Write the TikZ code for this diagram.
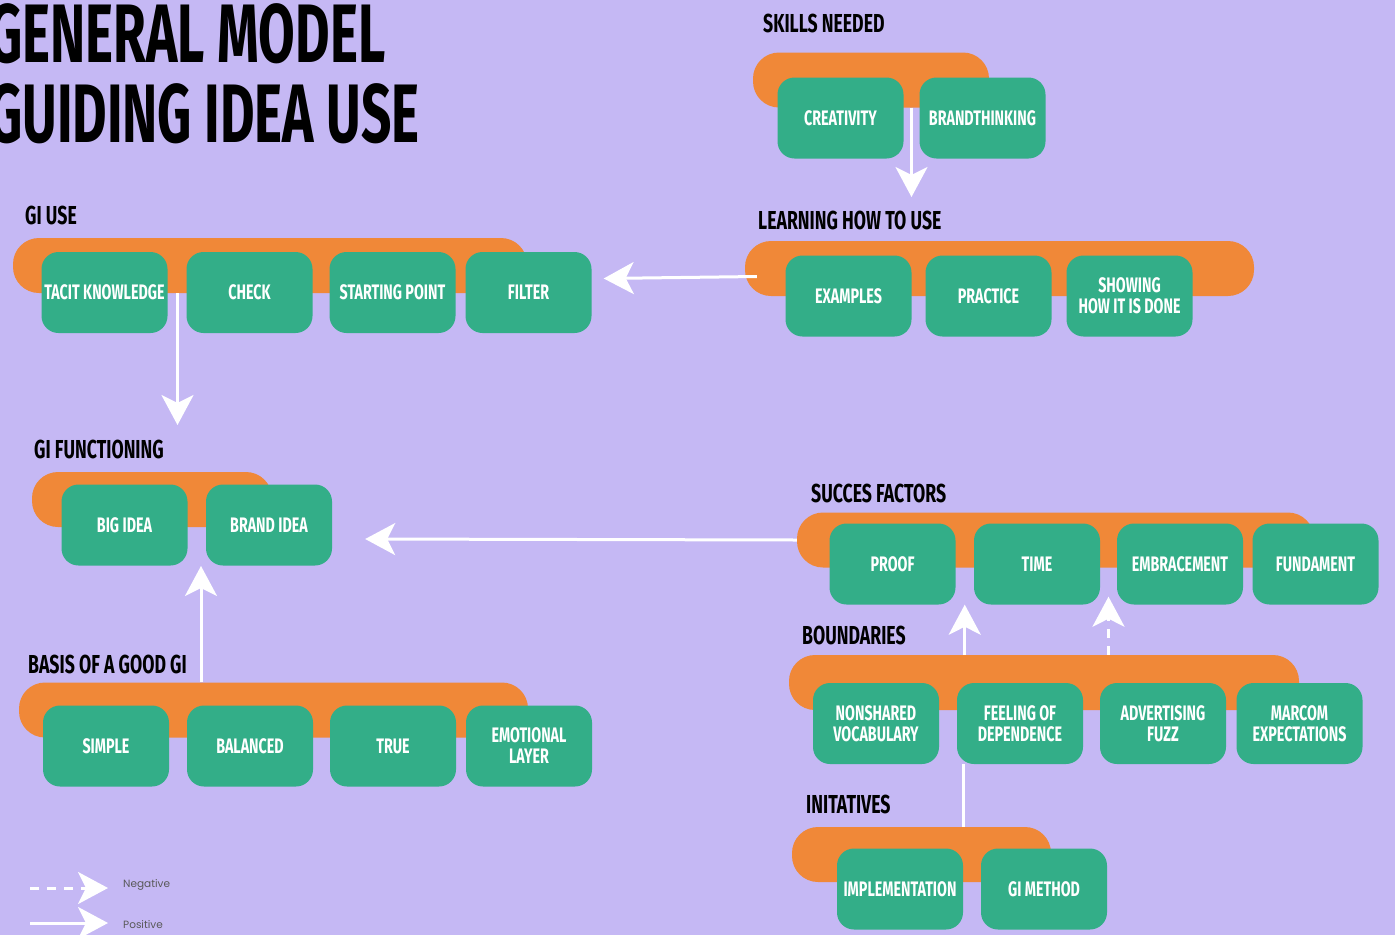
\documentclass[tikz,border=0pt]{standalone}
\usepackage{fontspec}
\usepackage{xcolor}
\usepackage{tikz}
\usetikzlibrary{shapes,arrows.meta,positioning}
\usetikzlibrary{calc}
\newfontfamily\condfont{Fira Sans}[FakeStretch=0.68]
\newfontfamily\titlefont{Fira Sans}[FakeStretch=0.64]
\newfontfamily\legendfont{Poppins}
\definecolor{lavender}{RGB}{197,184,244}
\definecolor{barorange}{RGB}{240,136,56}
\definecolor{boxgreen}{RGB}{51,174,136}

\begin{document}
\begin{tikzpicture}
  [
    x=1pt, y=-1pt,
    Bar/.style={rectangle, fill=barorange, rounded corners=26pt, minimum height=55pt, inner sep=0pt},
    Box/.style={rectangle, fill=boxgreen, rounded corners=17pt, minimum width=126pt, minimum height=81pt, inner sep=0pt, align=center, text=white, font=\condfont\bfseries\fontsize{21}{21}\selectfont},
    Head/.style={anchor=base west, inner sep=0pt, font=\condfont\bfseries\fontsize{26}{26}\selectfont},
    Title/.style={anchor=base west, inner sep=0pt, font=\titlefont\bfseries\fontsize{83}{83}\selectfont},
    Positive/.style={draw=white, line width=3pt, -{Stealth[length=30pt, width=32pt, inset=8pt]}},
    Negative/.style={Positive, dash pattern=on 9pt off 8pt},
    Legend/.style={anchor=west, inner sep=0pt, text=black!65, font=\legendfont\fontsize{10.5}{10.5}\selectfont}
  ]
  \fill[lavender] (0,0) rectangle (1395,935);
  \useasboundingbox (0,0) rectangle (1395,935);

  % Title
  \node[Title] (title1) at (-12,62) {GENERAL MODEL};
  \node[Title] (title2) at (-12,142) {GUIDING IDEA USE};

  % Headings
  \node[Head] (hskills) at (763,32) {SKILLS NEEDED};
  \node[Head] (hlearn) at (758,229) {LEARNING HOW TO USE};
  \node[Head] (hgiuse) at (25,224) {GI USE};
  \node[Head] (hfunc) at (34,458) {GI FUNCTIONING};
  \node[Head] (hbasis) at (28,673) {BASIS OF A GOOD GI};
  \node[Head] (hsucces) at (811,502) {SUCCES FACTORS};
  \node[Head] (hbound) at (802,644) {BOUNDARIES};
  \node[Head] (hinit) at (806,813) {INITATIVES};

  % Bars
  \node[Bar, minimum width=236pt] (skillsbar) at (871,80) {};
  \node[Bar, minimum width=509pt] (learnbar) at (999.5,268.5) {};
  \node[Bar, minimum width=514pt] (giusebar) at (270,265.5) {};
  \node[Bar, minimum width=240pt] (funcbar) at (152,499.5) {};
  \node[Bar, minimum width=509pt] (basisbar) at (273.5,710) {};
  \node[Bar, minimum width=517pt] (succesbar) at (1055.5,540) {};
  \node[Bar, minimum width=510pt] (boundbar) at (1044,682.5) {};
  \node[Bar, minimum width=259pt] (initbar) at (921.5,854.5) {};

  % Boxes
  \node[Box] (creativity) at (840.5,118) {CREATIVITY};
  \node[Box] (brandthinking) at (982.5,118) {BRANDTHINKING};

  \node[Box] (examples) at (848.5,296) {EXAMPLES};
  \node[Box] (practice) at (988.5,296) {PRACTICE};
  \node[Box] (showing) at (1129.5,296) {SHOWING\\HOW IT IS DONE};

  \node[Box] (tacit) at (104.5,292.5) {TACIT KNOWLEDGE};
  \node[Box] (check) at (249.5,292.5) {CHECK};
  \node[Box] (starting) at (392.5,292.5) {STARTING POINT};
  \node[Box] (filter) at (528.5,292.5) {FILTER};

  \node[Box] (bigidea) at (124.5,525) {BIG IDEA};
  \node[Box] (brandidea) at (269,525) {BRAND IDEA};

  \node[Box] (simple) at (106,746) {SIMPLE};
  \node[Box] (balanced) at (250,746) {BALANCED};
  \node[Box] (true) at (393,746) {TRUE};
  \node[Box] (emotional) at (529,746) {EMOTIONAL\\LAYER};

  \node[Box] (proof) at (892.5,564) {PROOF};
  \node[Box] (time) at (1037,564) {TIME};
  \node[Box] (embracement) at (1180,564) {EMBRACEMENT};
  \node[Box] (fundament) at (1315.5,564) {FUNDAMENT};

  \node[Box] (nonshared) at (876,723.5) {NONSHARED\\VOCABULARY};
  \node[Box] (feeling) at (1020,723.5) {FEELING OF\\DEPENDENCE};
  \node[Box] (advertising) at (1163,723.5) {ADVERTISING\\FUZZ};
  \node[Box] (marcom) at (1299.5,723.5) {MARCOM\\EXPECTATIONS};

  \node[Box] (implementation) at (900,889) {IMPLEMENTATION};
  \node[Box] (gimethod) at (1044,889) {GI METHOD};

  % Free ends
  \coordinate (learntip) at (911.5,197);
  \coordinate (functip) at (177.5,425);
  \coordinate (brandtip) at (201,566);
  \coordinate (prooftip) at ($(proof.south east)!.5!(time.south west)$);
  \coordinate (timetip) at ($(time.south east)!.5!(embracement.south west)+(0,-8)$);
  \coordinate (negA) at (30,888);
  \coordinate (negB) at (108,888);
  \coordinate (posA) at (30,923);
  \coordinate (posB) at (108,923);

  % Lines
  \path [Positive] (learntip |- skillsbar.south) -- (learntip);
  \path [Positive] ($(learnbar.west)+(12,8)$) -- ($(filter.east)+(12,-14)$);
  \path [Positive] (functip |- giusebar.south) -- (functip);
  \path [Positive] (succesbar.west) -- ($(brandidea.east)+(33,14)$);
  \path [Positive] (brandtip |- basisbar.north) -- (brandtip);
  \path [Positive] (prooftip |- boundbar.north) -- (prooftip);
  \path [Negative] (timetip |- boundbar.north) -- (timetip);
  \draw [white, line width=3pt] (implementation.east |- feeling.south) -- (implementation.east |- initbar.north);

  % Legend
  \path [Negative] (negA) -- (negB);
  \path [Positive] (posA) -- (posB);
  \node[Legend] (neglabel) at (123,885) {Negative};
  \node[Legend] (poslabel) at (123,925) {Positive};

\end{tikzpicture}
\end{document}
